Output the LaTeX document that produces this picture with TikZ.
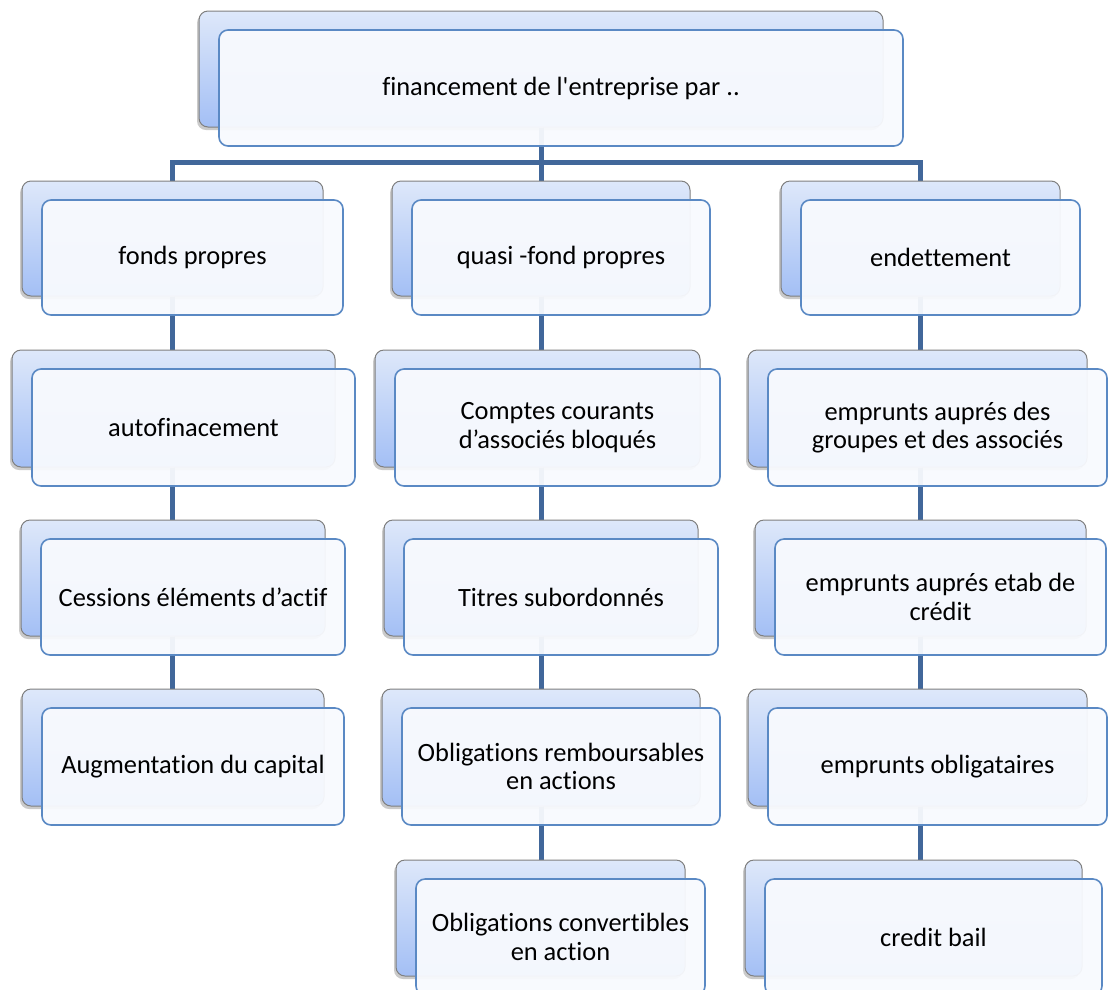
\documentclass[tikz,border=0pt]{standalone}
\usepackage{fontspec}
\setmainfont{Carlito}[Ligatures={NoCommon}]
\usetikzlibrary{shadows,backgrounds}

\definecolor{connblue}{HTML}{41679A}
\definecolor{frontborder}{HTML}{5A89C4}
\definecolor{frontfill}{HTML}{F8FAFE}
\definecolor{backtop}{HTML}{DEE8FA}
\definecolor{backbot}{HTML}{A3BFF5}
\definecolor{backborder}{HTML}{7F7F7F}

\tikzset{
  backbox/.style={draw=backborder, line width=1pt, rounded corners=9pt,
    top color=backtop, bottom color=backbot, inner sep=0pt,
    drop shadow={shadow xshift=-2pt, shadow yshift=-3pt, opacity=0.35, fill=black!60}},
  frontbox/.style={draw=frontborder, line width=1.6pt, rounded corners=9pt,
    fill=frontfill, fill opacity=0.95, text opacity=1, inner sep=0pt,
    align=center, font=\fontsize{26.4}{28.5}\selectfont},
  connector/.style={draw=connblue, line width=5pt},
}

% a pair of boxes: shaded box behind (name + "bk"), framed box with the text in front
% #1 name, #2 #3 centre of the front box, #4 width, #5 height, #6 text
\newcommand\tierbox[6]{%
  \node[backbox, minimum width=#4pt, minimum height=#5pt] (#1bk) at (#2-20,#3-19) {};
  \node[frontbox, minimum width=#4pt, minimum height=#5pt] (#1) at (#2,#3) {#6};
}

\begin{document}
\begin{tikzpicture}[x=1pt,y=-1pt]
\useasboundingbox (0,0) rectangle (1108,989);
\clip (0,0) rectangle (1108,989);

% root
\tierbox{root}{561}{88}{684}{116}{financement de l\textquotesingle entreprise par ..}

% first level
\tierbox{fp}{192.5}{257.5}{301}{115}{fonds propres}
\tierbox{qf}{561}{257.5}{298}{115}{quasi -fond propres}
\tierbox{en}{940.5}{257.5}{279}{115}{endettement}

% fonds propres column
\tierbox{fpA}{193.5}{427.5}{323}{117}{autofinacement}
\tierbox{fpB}{193}{597}{304}{116}{Cessions éléments d’actif}
\tierbox{fpC}{193}{766.5}{302}{117}{Augmentation du capital}

% quasi-fonds propres column
\tierbox{qfA}{557.5}{427.5}{325}{117}{Comptes courants\\d’associés bloqués}
\tierbox{qfB}{561}{597}{314}{116}{Titres subordonnés}
\tierbox{qfC}{561}{766.5}{318}{117}{Obligations remboursables\\en actions}
\tierbox{qfD}{560.5}{937}{289}{116}{Obligations convertibles\\en action}

% endettement column
\tierbox{enA}{937.5}{427.5}{339}{117}{emprunts auprés des\\groupes et des associés}
\tierbox{enB}{940.5}{597}{331}{116}{emprunts auprés etab de\\crédit}
\tierbox{enC}{937.5}{766.5}{339}{117}{emprunts obligataires}
\tierbox{enD}{933.5}{937}{337}{116}{credit bail}

\begin{scope}[on background layer]
  % root to the three branches
  \draw[connector] (rootbk.south) -- ++(0,35) -| (fpbk.north);
  \draw[connector] (rootbk.south) -- ++(0,35) -| (qfbk.north);
  \draw[connector] (rootbk.south) -- ++(0,35) -| (enbk.north);
  % columns
  \draw[connector] (fpbk.south) -- (fpbk.south |- fpAbk.north);
  \draw[connector] (fpAbk.south -| fpbk.south) -- (fpbk.south |- fpBbk.north);
  \draw[connector] (fpBbk.south -| fpbk.south) -- (fpbk.south |- fpCbk.north);
  \draw[connector] (qfbk.south) -- (qfbk.south |- qfAbk.north);
  \draw[connector] (qfAbk.south -| qfbk.south) -- (qfbk.south |- qfBbk.north);
  \draw[connector] (qfBbk.south -| qfbk.south) -- (qfbk.south |- qfCbk.north);
  \draw[connector] (qfCbk.south -| qfbk.south) -- (qfbk.south |- qfDbk.north);
  \draw[connector] (enbk.south) -- (enbk.south |- enAbk.north);
  \draw[connector] (enAbk.south -| enbk.south) -- (enbk.south |- enBbk.north);
  \draw[connector] (enBbk.south -| enbk.south) -- (enbk.south |- enCbk.north);
  \draw[connector] (enCbk.south -| enbk.south) -- (enbk.south |- enDbk.north);
\end{scope}
\end{tikzpicture}
\end{document}
